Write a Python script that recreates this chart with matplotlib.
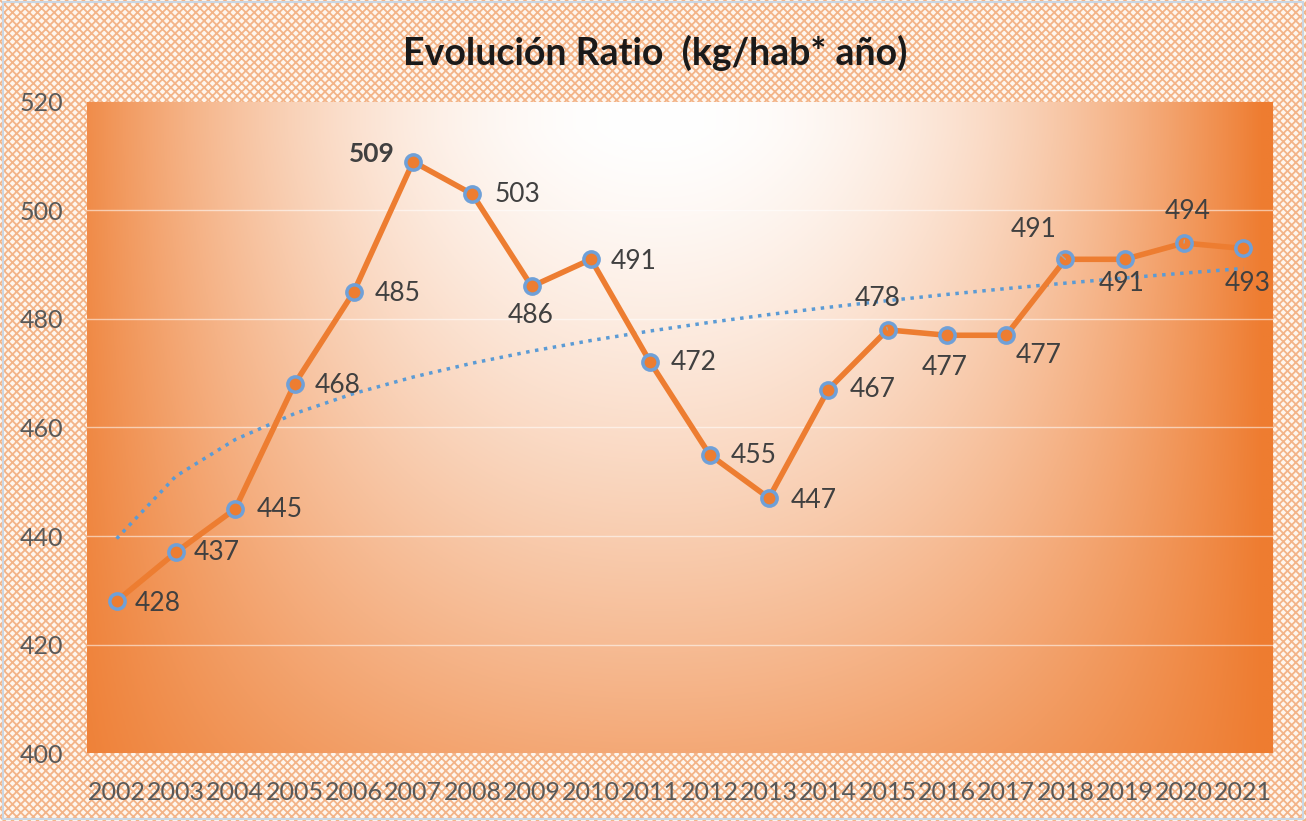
import numpy as np
import matplotlib.pyplot as plt
from matplotlib.patches import Rectangle
from matplotlib.colors import to_rgb

years = [str(y) for y in range(2002, 2022)]
ratio = [428, 437, 445, 468, 485, 509, 503, 486, 491, 472,
         455, 447, 467, 478, 477, 477, 491, 491, 494, 493]
yticks = [400, 420, 440, 460, 480, 500, 520]

# label offsets in pixels (dx, dy) relative to each point
offsets = [(41, -2), (41, 0), (44, -1), (43, -1), (44, -2), (-41, 8), (45, 0),
           (-1, -29), (43, -2), (43, 0), (44, -1), (45, -2), (44, 0), (-10, 31),
           (-2, -32), (33, -20), (-32, 30), (-3, -24), (4, 32), (4, -35)]
leaders = {13, 16, 18}

plt.rcParams['font.family'] = ['Lato', 'DejaVu Sans']
plt.rcParams['hatch.linewidth'] = 1.3

fig = plt.figure(figsize=(13.06, 8.21), dpi=100)
fig.patch.set_facecolor('#fef6ee')
bg = Rectangle((0, 0), 1, 1, transform=fig.transFigure, facecolor='#fef6ee',
               edgecolor='#f3b488', hatch='xxxx', linewidth=0, zorder=-10)
fig.patches.append(bg)
fig.patches.append(Rectangle((0.002, 0.002), 0.996, 0.996, transform=fig.transFigure,
                             fill=False, edgecolor='#c9d6e3', linewidth=1.5, zorder=-9))

ax = fig.add_axes([0.0666, 0.0828, 0.9081, 0.793])
x = np.arange(len(years))
ax.set_xlim(-0.5, len(years) - 0.5)
ax.set_ylim(400, 520)

# gradient fill for plot area (white near top centre, orange at the edges)
gx, gy = np.meshgrid(np.linspace(0, 1, 400), np.linspace(0, 1, 300))
fx = np.clip(0.95 * (np.abs(gx - 0.48) / 0.5) ** 2.1, 0, 1)
fy = 0.66 * (np.clip(0.96 - gy, 0, None) / 0.96) ** 1.3
f = 1 - (1 - fx) * (1 - fy)
c0 = np.array(to_rgb('#ffffff'))
c1 = np.array(to_rgb('#ee7c30'))
img = c0 + (c1 - c0) * f[..., None]
ax.imshow(img, extent=(-0.5, len(years) - 0.5, 400, 520), origin='lower',
          aspect='auto', zorder=0)

for t in yticks[1:-1]:
    ax.axhline(t, color='white', alpha=0.55, lw=1, zorder=1)

# logarithmic trend line fitted from the data
coef = np.polyfit(np.log(x + 1), ratio, 1)
trend = coef[0] * np.log(x + 1) + coef[1]
ax.plot(x, trend, color='#5b9bd5', lw=2.5, ls=(0, (1, 1.6)), zorder=2)

ax.plot(x, ratio, color='#ed7d31', lw=4, marker='o', ms=11,
        markerfacecolor='#ed7d31', markeredgecolor='#6fa0d8', markeredgewidth=2.5,
        zorder=3)

for i, (v, (dx, dy)) in enumerate(zip(ratio, offsets)):
    kw = {}
    if i in leaders:
        kw['arrowprops'] = dict(arrowstyle='-', color='#a6a6a6', lw=1,
                                shrinkA=10, shrinkB=6)
    ax.annotate(str(v), (i, v), xytext=(dx, dy), textcoords='offset pixels',
                ha='center', va='center', fontsize=19, color='#404040',
                fontweight='bold' if i == 5 else 'normal', zorder=4, **kw)

ax.set_xticks(x)
ax.set_xticklabels(years)
ax.set_yticks(yticks)
ax.tick_params(length=0, labelsize=18, labelcolor='#595959')
ax.tick_params(axis='x', pad=20)
ax.tick_params(axis='y', pad=17)
for s in ax.spines.values():
    s.set_visible(False)

fig.text(0.502, 0.935, 'Evolución Ratio  (kg/hab* año)', ha='center', va='center',
         fontsize=27, fontweight='bold', color='#1a1a1a')

fig.savefig('out.png', dpi=100)
